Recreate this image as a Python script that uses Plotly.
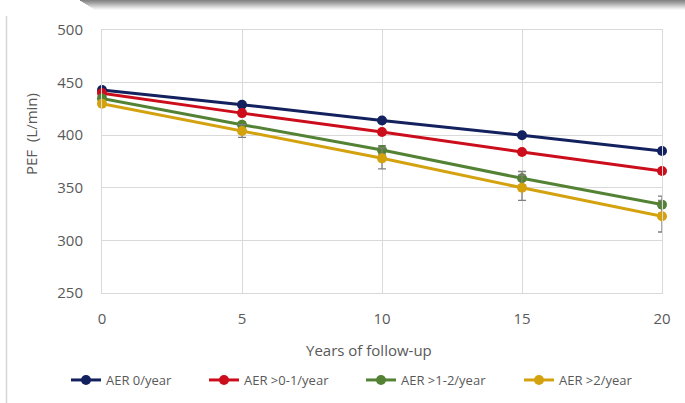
import plotly.graph_objects as go

# Follow-up years and mean PEF (L/min) per annual exacerbation-rate group
years = [0, 5, 10, 15, 20]
series_names = ["AER 0/year", "AER >0-1/year", "AER >1-2/year", "AER >2/year"]
pef_aer0 = [443, 429, 414, 400, 385]
pef_aer0_1 = [440, 421, 403, 384, 366]
pef_aer1_2 = [435, 410, 386, 359, 334]
pef_aer2 = [430, 404, 378, 350, 323]
# half-width of the confidence bars
err_aer0 = [0.5, 1.0, 1.5, 2.0, 2.5]
err_aer0_1 = [0.5, 1.0, 1.5, 2.0, 2.5]
err_aer1_2 = [0.5, 2.5, 4.0, 6.5, 8.0]
err_aer2 = [0.5, 6.0, 10.0, 12.0, 15.0]
colors = ["#13215e", "#cc0d1c", "#548235", "#d4a20f"]

y_ticks = [250, 300, 350, 400, 450, 500]
x_ticks = [0, 5, 10, 15, 20]

FONT = "Open Sans"
GRID = "#d9d9d9"
TXT = "#595959"

W, H = 685, 403
L, R, T, B = 102, 23, 30, 110
PW, PH = W - L - R, H - T - B

# left edge (px) of each legend entry along the bottom row
legend_left = [66, 204, 361, 519]
legend_ids = ["legend", "legend2", "legend3", "legend4"]


def px_x(p):
    return (p - L) / PW


def px_y(p):
    return (H - B - p) / PH


fig = go.Figure()
for name, vals, errs, col, lid in zip(
    series_names,
    [pef_aer0, pef_aer0_1, pef_aer1_2, pef_aer2],
    [err_aer0, err_aer0_1, err_aer1_2, err_aer2],
    colors,
    legend_ids,
):
    fig.add_trace(
        go.Scatter(
            x=years,
            y=vals,
            name=name,
            legend=lid,
            mode="lines+markers",
            line=dict(color=col, width=3),
            marker=dict(color=col, size=10),
            error_y=dict(type="data", array=errs, color="#7f7f7f",
                         thickness=1.3, width=4),
            cliponaxis=False,
        )
    )

legend_style = {}
for lid, left in zip(legend_ids, legend_left):
    legend_style[lid] = dict(
        orientation="h",
        xref="container", yref="container",
        x=left / W, y=1 - 365 / H, xanchor="left", yanchor="top",
        font=dict(size=13, color=TXT, family=FONT),
        itemwidth=30,
        bgcolor="rgba(0,0,0,0)",
    )

# frame decoration: shaded top edge and thin left rule
shapes = []
shade = ["#858585", "#909090", "#9c9c9c", "#a9a9a9", "#b7b7b7",
         "#c5c5c5", "#d3d3d3", "#e0e0e0", "#ececec", "#f6f6f6"]
for i, c in enumerate(shade):
    shapes.append(dict(
        type="rect", xref="paper", yref="paper", layer="below",
        x0=px_x(80 + 1.6 * i), x1=px_x(W + 5),
        y0=px_y(i + 1), y1=px_y(i),
        fillcolor=c, line=dict(width=0),
    ))
shapes.append(dict(
    type="line", xref="paper", yref="paper", layer="below",
    x0=px_x(6.5), x1=px_x(6.5), y0=px_y(16), y1=px_y(H + 2),
    line=dict(color="#d6d6d6", width=1.5),
))

annotations = [
    dict(text="Years of follow-up", xref="paper", yref="paper",
         x=px_x(369), y=px_y(350), xanchor="center", yanchor="middle",
         showarrow=False, font=dict(size=15, color=TXT, family=FONT)),
    dict(text="PEF  (L/min)", xref="paper", yref="paper", textangle=-90,
         x=px_x(31), y=px_y(134), xanchor="center", yanchor="middle",
         showarrow=False, font=dict(size=15, color=TXT, family=FONT)),
]

fig.update_layout(
    width=W, height=H,
    margin=dict(l=L, r=R, t=T, b=B),
    paper_bgcolor="white", plot_bgcolor="white",
    font=dict(family=FONT, color=TXT, size=13),
    shapes=shapes,
    annotations=annotations,
    showlegend=True,
    xaxis=dict(
        range=[0, 20], tickvals=x_ticks,
        showgrid=True, gridcolor=GRID, gridwidth=1,
        showline=True, linecolor=GRID, linewidth=1, mirror=True,
        zeroline=False, ticks="", ticklabelstandoff=12,
        tickfont=dict(size=15, color=TXT),
    ),
    yaxis=dict(
        range=[250, 500], tickvals=y_ticks,
        showgrid=True, gridcolor=GRID, gridwidth=1,
        showline=True, linecolor=GRID, linewidth=1, mirror=True,
        zeroline=False, ticks="", ticklabelstandoff=15,
        tickfont=dict(size=15, color=TXT),
    ),
    **legend_style,
)

fig.write_html("out.html")
